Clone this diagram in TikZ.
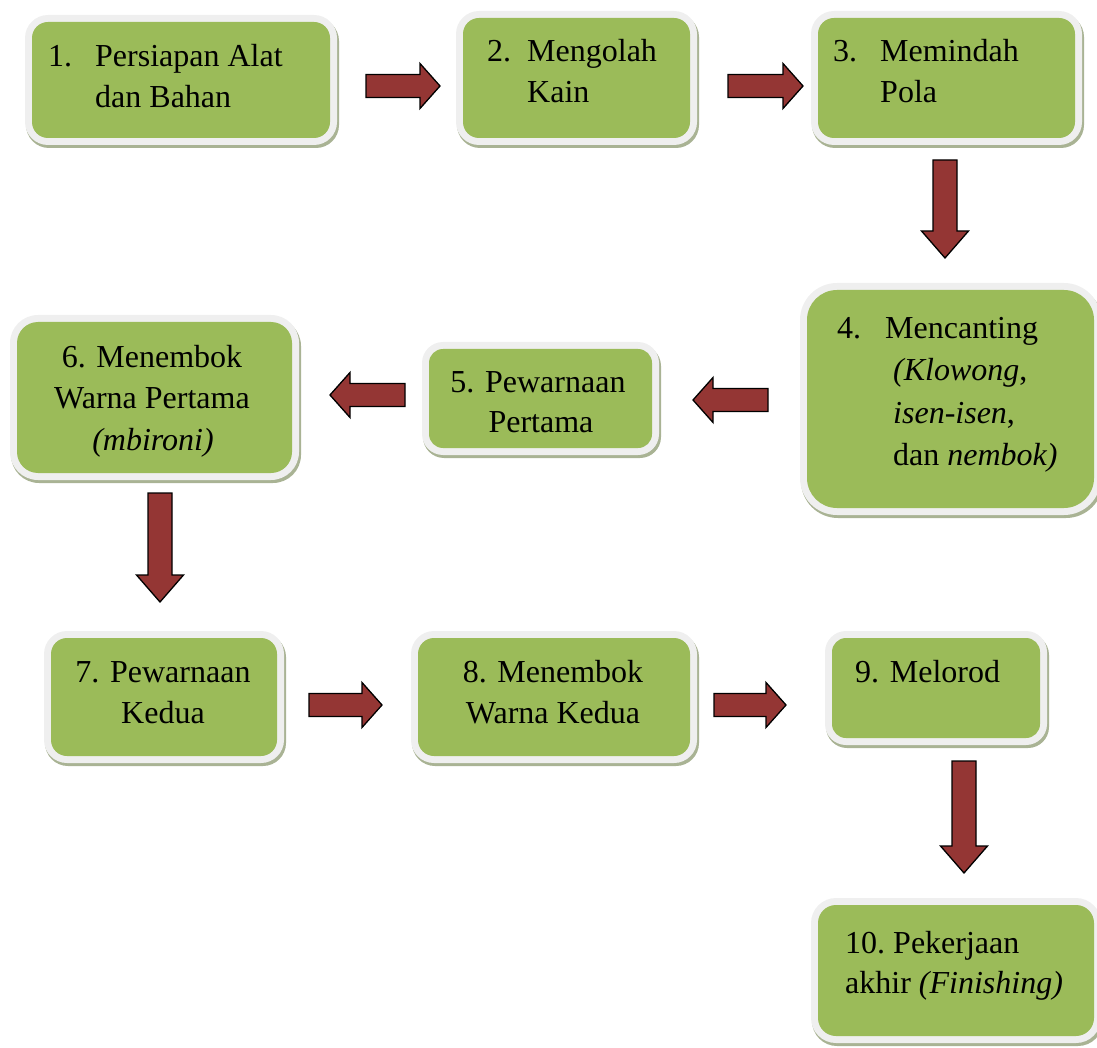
\documentclass[tikz,border=0pt]{standalone}
\usepackage{fontspec}
\setmainfont{Liberation Serif}
\usetikzlibrary{calc}
\definecolor{boxgreen}{HTML}{9BBB59}
\definecolor{boxrim}{HTML}{EFEFEF}
\definecolor{boxshadow}{HTML}{A9B394}
\definecolor{arrowred}{HTML}{943634}
\tikzset{
 blockarrow/.style={fill=arrowred, draw=black, line width=1.3pt, line join=miter},
 greenbox/.style={fill=boxgreen, draw=none, inner sep=0pt},
 txt/.style={inner sep=0pt, font=\fontsize{32}{41}\selectfont, anchor=base west},
 ctxt/.style={txt, anchor=base},
}
\newcommand\stepbox[6]{%
 \pgfmathsetmacro\ro{#6+7}%
 \fill[boxshadow, rounded corners=\ro pt] (#2-6,#3-4) rectangle (#4+9,#5+10);
 \fill[boxrim, rounded corners=\ro pt] (#2-7,#3-7) rectangle (#4+7,#5+7);
 \node[greenbox, rounded corners=#6pt, minimum width={(#4-#2)*1pt}, minimum height={(#5-#3)*1pt}] (#1) at ({(#2+#4)/2},{(#3+#5)/2}) {};
}
\newcommand\rarrow[2]{\draw[blockarrow] let \p1=(#1),\p2=(#2) in (\x1,\y1+11.5pt) -- (\x2-20pt,\y1+11.5pt) -- (\x2-20pt,\y1+22.5pt) -- (\x2,\y1) -- (\x2-20pt,\y1-22.5pt) -- (\x2-20pt,\y1-11.5pt) -- (\x1,\y1-11.5pt) -- cycle;}
\newcommand\larrow[2]{\draw[blockarrow] let \p1=(#1),\p2=(#2) in (\x1,\y1+11.5pt) -- (\x2+20pt,\y1+11.5pt) -- (\x2+20pt,\y1+22.5pt) -- (\x2,\y1) -- (\x2+20pt,\y1-22.5pt) -- (\x2+20pt,\y1-11.5pt) -- (\x1,\y1-11.5pt) -- cycle;}
\newcommand\darrow[2]{\draw[blockarrow] let \p1=(#1),\p2=(#2) in (\x1-12pt,\y1) -- (\x1-12pt,\y2+27pt) -- (\x1-23.5pt,\y2+27pt) -- (\x1,\y2) -- (\x1+23.5pt,\y2+27pt) -- (\x1+12pt,\y2+27pt) -- (\x1+12pt,\y1) -- cycle;}
\begin{document}
\begin{tikzpicture}[x=1pt,y=-1pt]
\useasboundingbox (0,0) rectangle (1097,1048);
\clip (0,0) rectangle (1097,1048);
% boxes
\stepbox{b1}{32}{22}{330}{138}{16}
\stepbox{b2}{463}{18}{690}{138}{16}
\stepbox{b3}{818}{18}{1075}{138}{16}
\stepbox{b4}{807}{290}{1094}{508}{30}
\stepbox{b5}{429}{349}{652}{448}{14}
\stepbox{b6}{17}{322}{292}{473}{21}
\stepbox{b7}{51}{638}{277}{756}{16}
\stepbox{b8}{418}{638}{690}{756}{16}
\stepbox{b9}{832}{638}{1040}{738}{14}
\stepbox{b10}{818}{905}{1094}{1036}{18}
% texts
\node[txt] (t1a) at (48,67) {1.};
\node[txt] (t1b) at (95,67) {Persiapan Alat};
\node[txt] (t1c) at (95,108) {dan Bahan};
\node[txt] (t2a) at (487,62) {2.};
\node[txt] (t2b) at (527,62) {Mengolah};
\node[txt] (t2c) at (527,103) {Kain};
\node[txt] (t3a) at (833,62) {3.};
\node[txt] (t3b) at (880,62) {Memindah};
\node[txt] (t3c) at (880,103) {Pola};
\node[txt] (t4a) at (837,338) {4.};
\node[txt] (t4b) at (885,338) {Mencanting};
\node[txt] (t4c) at (893,380) {\textit{(Klowong},};
\node[txt] (t4d) at (893,423) {\textit{isen-isen},};
\node[txt] (t4e) at (893,465) {dan \textit{nembok)}};
\node[ctxt] (t5a) at (538,392) {5. Pewarnaan};
\node[ctxt] (t5b) at (541,432) {Pertama};
\node[ctxt] (t6a) at (152,367) {6. Menembok};
\node[ctxt] (t6b) at (152,408) {Warna Pertama};
\node[ctxt] (t6c) at (153,450) {\textit{(mbironi)}};
\node[ctxt] (t7a) at (163,682) {7. Pewarnaan};
\node[ctxt] (t7b) at (163,723) {Kedua};
\node[ctxt] (t8a) at (553,682) {8. Menembok};
\node[ctxt] (t8b) at (553,723) {Warna Kedua};
\node[txt] (t9a) at (855,682) {9. Melorod};
\node[txt] (t10a) at (845,953) {10.};
\node[txt] (t10b) at (893,953) {Pekerjaan};
\node[txt] (t10c) at (845,993) {akhir \textit{(Finishing)}};
% arrow anchor coordinates
\coordinate (a12s) at (366,86);  \coordinate (a12e) at (440,86);
\coordinate (a23s) at (728,86);  \coordinate (a23e) at (803,86);
\coordinate (a34s) at (945,160); \coordinate (a34e) at (945,258);
\coordinate (a45s) at (768,400); \coordinate (a45e) at (693,400);
\coordinate (a56s) at (405,395); \coordinate (a56e) at (330,395);
\coordinate (a67s) at (160,493); \coordinate (a67e) at (160,602);
\coordinate (a78s) at (309,705); \coordinate (a78e) at (382,705);
\coordinate (a89s) at (714,705); \coordinate (a89e) at (786,705);
\coordinate (a910s) at (964,761); \coordinate (a910e) at (964,873);
\rarrow{a12s}{a12e}
\rarrow{a23s}{a23e}
\darrow{a34s}{a34e}
\larrow{a45s}{a45e}
\larrow{a56s}{a56e}
\darrow{a67s}{a67e}
\rarrow{a78s}{a78e}
\rarrow{a89s}{a89e}
\darrow{a910s}{a910e}
\end{tikzpicture}
\end{document}
